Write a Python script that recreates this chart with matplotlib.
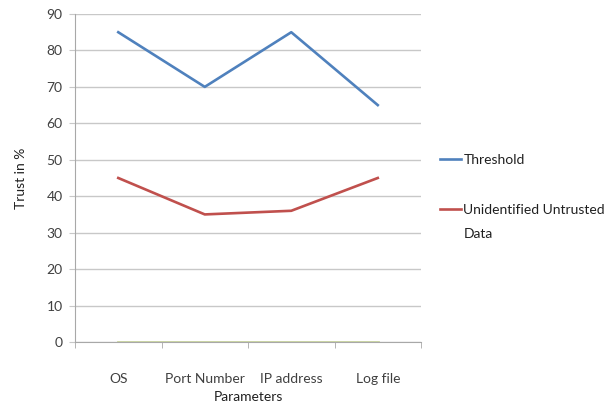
import numpy as np
import matplotlib.pyplot as plt

categories = ['OS', 'Port Number', 'IP address', 'Log file']
threshold = [85, 70, 85, 65]
untrusted = [45, 35, 36, 45]
third_series = [0, 0, 0, 0]
y_ticks = [0, 10, 20, 30, 40, 50, 60, 70, 80, 90]

plt.rcParams['font.family'] = ['Lato', 'DejaVu Sans']
text_col = '#404040'
grid_col = '#c8c8c8'

fig = plt.figure(figsize=(6.07, 4.12), dpi=100)
ax = fig.add_axes([0.1236, 0.170, 0.570, 0.796])

x = np.arange(len(categories))
ax.plot(x, threshold, color='#4f81bd', lw=1.9, label='Threshold')
ax.plot(x, untrusted, color='#c0504d', lw=1.9, label='Unidentified Untrusted')
ax.plot(x, third_series, color='#c9d49c', lw=2.0, zorder=1)

ax.set_xlim(-0.5, len(categories) - 0.5)
ax.set_ylim(0, 90)
ax.set_yticks(y_ticks)
ax.set_xticks(x)
ax.set_xticklabels(categories)
ax.set_xticks(np.arange(len(categories) + 1) - 0.5, minor=True)

ax.yaxis.grid(True, color=grid_col, lw=1)
ax.set_axisbelow(True)
for side in ['top', 'right']:
    ax.spines[side].set_visible(False)
for side in ['left', 'bottom']:
    ax.spines[side].set_color('#a8a8a8')

ax.tick_params(axis='y', colors=grid_col, labelcolor=text_col, labelsize=10, length=4, pad=5)
ax.tick_params(axis='x', which='major', length=0, labelcolor=text_col, labelsize=10, pad=22)
ax.tick_params(axis='x', which='minor', length=4, color='#a8a8a8')

ax.set_xlabel('Parameters', fontsize=10, color='#202020', labelpad=5)
ax.set_ylabel('Trust in %', fontsize=10, color='#202020', labelpad=14)

leg = fig.legend(loc='upper left', bbox_to_anchor=(0.705, 0.657), frameon=False,
                 fontsize=10, handlelength=1.5, handletextpad=0.15, labelspacing=2.75,
                 labelcolor='#202020')

# second line of the long legend label, under its first line
fig.canvas.draw()
bb = leg.get_texts()[1].get_window_extent()
fig.text(bb.x0 / fig.bbox.width, (bb.y0 - 24) / fig.bbox.height, 'Data',
         fontsize=10, color='#202020', ha='left', va='bottom')

fig.savefig('out.png', dpi=100)
